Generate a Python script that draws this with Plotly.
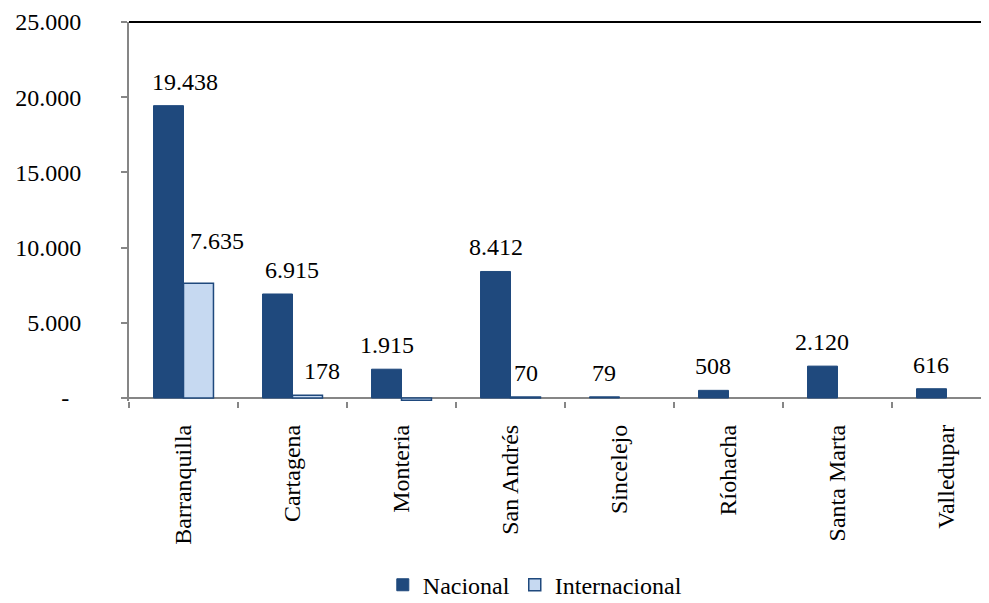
import plotly.graph_objects as go

categorias = ["Barranquilla", "Cartagena", "Monteria", "San Andrés", "Sincelejo",
              "Ríohacha", "Santa Marta", "Valledupar"]
nacional = [19438, 6915, 1915, 8412, 79, 508, 2120, 616]
internacional = [7635, 178, -150, 70, None, None, None, None]
y_ticks = [0, 5000, 10000, 15000, 20000, 25000]
y_ticktext = ["-\u00a0\u00a0", "5.000", "10.000", "15.000", "20.000", "25.000"]

FONT = "Liberation Serif, Times New Roman, serif"
FS = 24
DARK = "#1F497D"
LIGHT = "#C6D9F1"
GRAY = "#868686"

# label nudges (pixels) to mimic the manually placed labels in the original
nudge_nac = {"Barranquilla": (16, 0), "Cartagena": (14, 0)}
nudge_int = {"Barranquilla": (18, 18), "Cartagena": (14, 0)}


def fmt(v):
    return f"{v:,}".replace(",", ".")


fig = go.Figure()
fig.add_trace(go.Bar(name="Nacional", x=categorias, y=nacional,
                     marker=dict(color=DARK, line=dict(color=DARK, width=1))))
fig.add_trace(go.Bar(name="Internacional", x=categorias, y=internacional,
                     marker=dict(color=LIGHT, line=dict(color=DARK, width=1.5))))

annotations = []
for c, v in zip(categorias, nacional):
    dx, dy = nudge_nac.get(c, (0, 0))
    annotations.append(dict(x=c, y=v, text=fmt(v), showarrow=False, xshift=-15 + dx,
                            yshift=9 + dy, yanchor="bottom", xref="x", yref="y",
                            font=dict(family=FONT, size=FS, color="black")))
for c, v in zip(categorias, internacional):
    if v is not None and v > 0:
        dx, dy = nudge_int.get(c, (0, 0))
        annotations.append(dict(x=c, y=v, text=fmt(v), showarrow=False, xshift=15 + dx,
                                yshift=9 + dy, yanchor="bottom", xref="x", yref="y",
                                font=dict(family=FONT, size=FS, color="black")))

fig.update_layout(
    width=981, height=595,
    margin=dict(l=121, r=0, t=14, b=202),
    paper_bgcolor="white", plot_bgcolor="white",
    font=dict(family=FONT, size=FS, color="black"),
    barmode="group", bargap=0.45, bargroupgap=0,
    annotations=annotations,
    showlegend=True,
    legend=dict(orientation="h", xref="container", yref="container",
                x=0.537, y=0.03, xanchor="center", yanchor="middle",
                font=dict(family=FONT, size=FS, color="black"),
                itemwidth=30, tracegroupgap=0),
    shapes=[dict(type="line", xref="paper", yref="paper", x0=0, x1=1, y0=1, y1=1,
                 line=dict(color="black", width=2))],
)
fig.update_xaxes(
    range=[-0.5, 7.39], tickson="boundaries", ticks="outside", ticklen=6,
    tickwidth=2, tickcolor=GRAY, tickangle=-90, ticklabelstandoff=18,
    showline=False, showgrid=False, zeroline=False,
    tickfont=dict(family=FONT, size=FS, color="black"),
)
fig.update_yaxes(
    range=[-200, 25000], tickvals=y_ticks, ticktext=y_ticktext,
    ticks="outside", ticklen=6, tickwidth=2, tickcolor=GRAY,
    showline=True, linecolor=GRAY, linewidth=2,
    showgrid=False, zeroline=True, zerolinecolor=GRAY, zerolinewidth=2,
    ticklabelstandoff=35,
    tickfont=dict(family=FONT, size=FS, color="black"),
)

fig.write_html("out.html")
